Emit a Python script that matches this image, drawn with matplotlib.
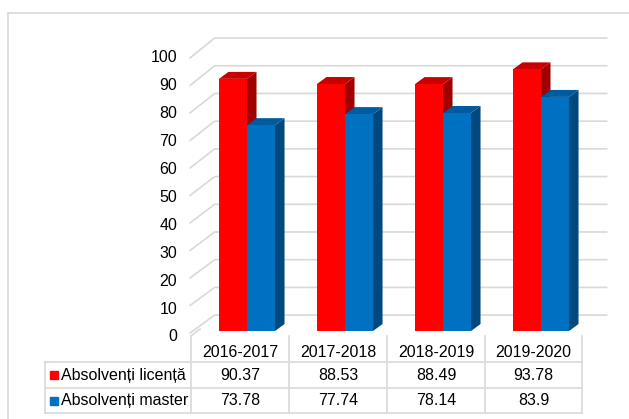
import matplotlib
matplotlib.use("Agg")
from matplotlib import pyplot as plt
from matplotlib.patches import Polygon
from matplotlib.lines import Line2D

plt.rcParams['font.family'] = ['Liberation Sans', 'DejaVu Sans']

years = ['2016-2017', '2017-2018', '2018-2019', '2019-2020']
series_names = ['Absolvenți licență', 'Absolvenți master']
licenta = [90.37, 88.53, 88.49, 93.78]
master = [73.78, 77.74, 78.14, 83.9]

front_colors = ['#ff0000', '#0070c0']
top_colors = ['#c80000', '#005a9e']
side_colors = ['#a00000', '#00497f']
grid_color = '#d9d9d9'

W, H = 629, 419
fig = plt.figure(figsize=(W / 100, H / 100), dpi=100)
ax = fig.add_axes([0, 0, 1, 1])
# one category = 98 px, one value unit = 2.79 px
ax.set_xlim(-247 / 98, (W - 247) / 98)
ax.set_ylim((331 - H) / 2.79, 331 / 2.79)
ax.axis('off')


def px(x, y):
    return x / W, 1 - y / H


def fline(x0, y0, x1, y1, **kw):
    a, b = px(x0, y0)
    c, d = px(x1, y1)
    fig.add_artist(Line2D([a, c], [b, d], transform=fig.transFigure,
                          color=grid_color, lw=1.2, **kw))


# back wall / side wall gridlines
ticks = list(range(0, 101, 10))
wall_front_x, wall_back_x, wall_right_x = -0.58, -0.33, 3.67
for v in ticks:
    yf = 0.986 * v - 0.7
    yb = 0.993 * v + 5.7
    ax.plot([wall_front_x, wall_back_x, wall_right_x], [yf, yb, yb],
            color=grid_color, lw=1.2, zorder=1)
    ax.text(-0.714, v - 2.15, str(v), ha='right', va='center', fontsize=11.5)

# pseudo 3D bars
bw = 0.286
dx, dy = 0.097, 2.5
for i in range(len(years)):
    for k, vals in enumerate([licenta, master]):
        v = vals[i]
        x0 = i - bw + k * bw
        side = [(x0 + bw, 0), (x0 + bw + dx, dy), (x0 + bw + dx, v + dy), (x0 + bw, v)]
        top = [(x0, v), (x0 + bw, v), (x0 + bw + dx, v + dy), (x0 + dx, v + dy)]
        ax.add_patch(Polygon(side, closed=True, fc=side_colors[k], ec='none', zorder=3))
        ax.add_patch(Polygon(top, closed=True, fc=top_colors[k], ec='none', zorder=3))
        ax.bar(x0, v, width=bw, align='edge', color=front_colors[k], zorder=3)

# outer chart border
fline(8, H, 8, 13)
fline(8, 13, W, 13)

# data table
cols = [191, 289, 387, 485, 582]
rows = [362, 388, 413]
for r in rows:
    fline(45, r, cols[-1], r)
fline(45, rows[0], 45, rows[-1])
for c in cols:
    fline(c, 336, c, rows[-1])
fline(191, 336, 200, 329)

for j, name in enumerate(years):
    cx = (cols[j] + cols[j + 1]) / 2
    fig.text(*px(cx, 352), name, ha='center', va='center', fontsize=11.5)
    for r, vals in enumerate([licenta, master]):
        ry = (rows[r] + rows[r + 1]) / 2
        fig.text(*px(cx, ry), f"{vals[j]:g}", ha='center', va='center', fontsize=11.5)

for r, name in enumerate(series_names):
    ry = (rows[r] + rows[r + 1]) / 2
    a, b = px(50, ry - 4)
    fig.add_artist(plt.Rectangle((a, b - 8 / H), 8 / W, 8 / H, transform=fig.transFigure,
                                 color=front_colors[r]))
    fig.text(*px(61, ry), name, ha='left', va='center', fontsize=11.5)

fig.savefig('out.png', dpi=100)
